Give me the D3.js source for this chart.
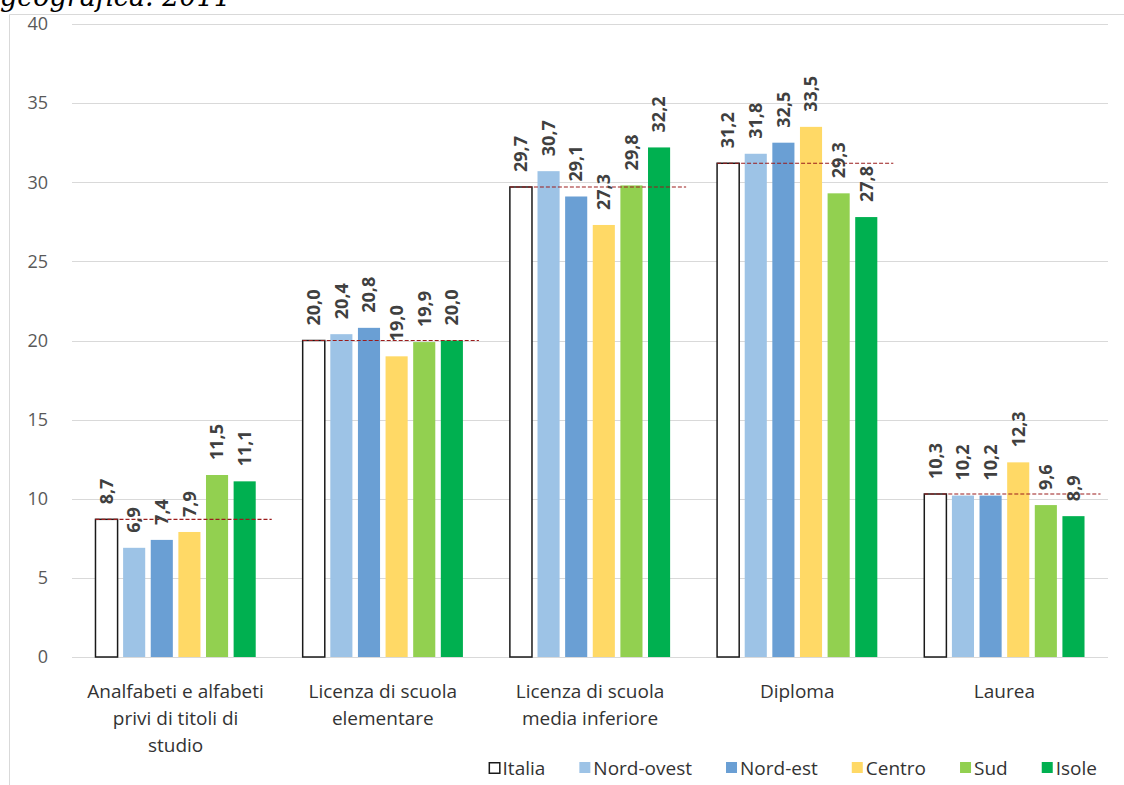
<!DOCTYPE html>
<html>
<head>
<meta charset="utf-8">
<script src="https://cdn.jsdelivr.net/npm/d3@7"></script>
<style>
  html, body { margin: 0; padding: 0; background: #fff; }
  svg { display: block; }
</style>
</head>
<body>
<div id="chart"></div>
<script>
// titoli di studio per ripartizione geografica, 2011 (valori %)
const categories = [
  ["Analfabeti e alfabeti", "privi di titoli di", "studio"],
  ["Licenza di scuola", "elementare"],
  ["Licenza di scuola", "media inferiore"],
  ["Diploma"],
  ["Laurea"]
];
const areas = ["Italia", "Nord-ovest", "Nord-est", "Centro", "Sud", "Isole"];
const italia    = [8.7, 20.0, 29.7, 31.2, 10.3];
const nordOvest = [6.9, 20.4, 30.7, 31.8, 10.2];
const nordEst   = [7.4, 20.8, 29.1, 32.5, 10.2];
const centro    = [7.9, 19.0, 27.3, 33.5, 12.3];
const sud       = [11.5, 19.9, 29.8, 29.3, 9.6];
const isole     = [11.1, 20.0, 32.2, 27.8, 8.9];
const yTicks = [0, 5, 10, 15, 20, 25, 30, 35, 40];

const series = [italia, nordOvest, nordEst, centro, sud, isole];
const colors = ["#ffffff", "#9dc3e6", "#6a9fd4", "#ffd966", "#92d050", "#00b050"];

const W = 1124, H = 785;
const svg = d3.select("#chart").append("svg").attr("width", W).attr("height", H);

// titolo tagliato in alto
svg.append("text")
  .attr("x", 0).attr("y", 6)
  .style("font-family", "'DejaVu Serif', serif")
  .style("font-style", "italic")
  .style("font-size", "27px")
  .attr("fill", "#000")
  .text("geografica. 2011");

// cornice
svg.append("path")
  .attr("d", `M9.5,${H} V14.5 H${W}`)
  .attr("fill", "none").attr("stroke", "#d9d9d9");

const x0 = d3.scaleBand().domain(d3.range(categories.length)).range([72, 1108]).paddingInner(0.2).paddingOuter(0.1);
const x1 = d3.scaleBand().domain(d3.range(areas.length)).range([0, x0.bandwidth()]).paddingInner(0.2).paddingOuter(0.1);
const y = d3.scaleLinear().domain([0, 40]).range([657, 24]);

// griglia
svg.append("g").selectAll("line").data(yTicks).join("line")
  .attr("x1", 72).attr("x2", 1108)
  .attr("y1", d => Math.round(y(d)) + 0.5).attr("y2", d => Math.round(y(d)) + 0.5)
  .attr("stroke", "#d9d9d9");

svg.append("g").selectAll("text").data(yTicks).join("text")
  .attr("x", 48).attr("y", d => y(d)).attr("dy", "0.35em")
  .attr("text-anchor", "end")
  .style("font-family", "'Open Sans', sans-serif").style("font-size", "18px")
  .attr("fill", "#595959")
  .text(d => d);

const cells = [];
categories.forEach((c, i) => series.forEach((s, j) => cells.push({ i, j, v: s[i] })));

const fmt = v => v.toFixed(1).replace(".", ",");

// barre
svg.append("g").selectAll("rect").data(cells).join("rect")
  .attr("x", d => x0(d.i) + x1(d.j))
  .attr("y", d => y(d.v))
  .attr("width", x1.bandwidth())
  .attr("height", d => y(0) - y(d.v))
  .attr("fill", d => colors[d.j])
  .attr("stroke", d => d.j === 0 ? "#1a1a1a" : "none")
  .attr("stroke-width", 1.5);

// linea media Italia
svg.append("g").selectAll("line").data(italia).join("line")
  .attr("x1", (d, i) => x0(i) + x1(0))
  .attr("x2", (d, i) => x0(i) + x1(areas.length - 1) + x1.bandwidth() + 16)
  .attr("y1", d => y(d)).attr("y2", d => y(d))
  .attr("stroke", "#9b1c1c").attr("stroke-width", 1.2)
  .attr("stroke-dasharray", "4,2");

// etichette valori
svg.append("g").selectAll("text").data(cells).join("text")
  .attr("transform", d => `translate(${x0(d.i) + x1(d.j) + x1.bandwidth() / 2},${y(d.v) - 15}) rotate(-90)`)
  .attr("dy", "0.35em")
  .attr("text-anchor", "start")
  .style("font-family", "'Open Sans', sans-serif").style("font-size", "18px")
  .style("font-weight", 700)
  .attr("fill", "#404040")
  .text(d => fmt(d.v));

// etichette categorie
const cat = svg.append("g").selectAll("text").data(categories).join("text")
  .attr("text-anchor", "middle")
  .style("font-family", "'Open Sans', sans-serif").style("font-size", "19px")
  .attr("fill", "#333");
cat.selectAll("tspan").data((d, i) => d.map(t => ({ t, i }))).join("tspan")
  .attr("x", d => x0(d.i) + x0.bandwidth() / 2)
  .attr("y", (d, k) => 698 + k * 27)
  .text(d => d.t);

// legenda
const leg = svg.append("g");
let lx = 0;
const gap = 34;
areas.forEach((a, j) => {
  const g = leg.append("g").attr("transform", `translate(${lx},0)`);
  g.append("rect").attr("x", j === 0 ? 0.75 : 0).attr("y", -6 + (j === 0 ? 0.75 : 0))
    .attr("width", j === 0 ? 10.5 : 11).attr("height", j === 0 ? 10.5 : 11)
    .attr("fill", colors[j]).attr("stroke", j === 0 ? "#1a1a1a" : "none").attr("stroke-width", 1.5);
  const t = g.append("text").attr("x", 14).attr("y", 0).attr("dy", "0.35em")
    .style("font-family", "'Open Sans', sans-serif").style("font-size", "19px")
    .attr("fill", "#333").text(a);
  lx += 14 + t.node().getComputedTextLength() + gap;
});
const legW = lx - gap;
leg.attr("transform", `translate(${1097 - legW},768)`);
</script>
</body>
</html>
